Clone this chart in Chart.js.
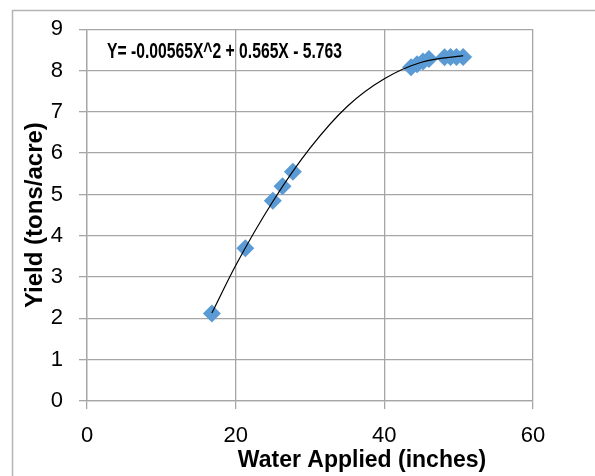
<!DOCTYPE html>
<html><head><meta charset="utf-8">
<script src="https://cdn.jsdelivr.net/npm/chart.js@4"></script>
<style>html,body{margin:0;padding:0;background:#fff}canvas{display:block}</style>
</head><body>
<canvas id="c" width="595" height="476"></canvas>
<script>
const waterApplied = [16.8, 21.3, 25.0, 26.3, 27.7, 43.6, 44.4, 45.2, 46.0, 48.1, 48.9, 49.7, 50.6];
const yieldValues  = [2.12, 3.70, 4.85, 5.20, 5.55, 8.08, 8.15, 8.22, 8.28, 8.32, 8.33, 8.33, 8.33];
// Trend line
const trendX = [16.8, 20, 25, 30, 35, 40, 45, 50.6];
const trendY = [2.13, 3.28, 4.83, 6.12, 7.13, 7.80, 8.20, 8.36];
const xTickValues = [0, 20, 40, 60];
const yTickValues = [0, 1, 2, 3, 4, 5, 6, 7, 8, 9];
const xTitle = 'Water Applied (inches)';
const yTitle = 'Yield (tons/acre)';
const equationText = 'Y= -0.00565X^2 + 0.565X - 5.763';

const FONT = '"Liberation Sans", Arial, sans-serif';
const GRID = '#a6a6a6';

const overlay = {
  id: 'overlay',
  beforeDraw(chart) {
    const ctx = chart.ctx;
    ctx.save();
    ctx.strokeStyle = '#b4b4b4';
    ctx.lineWidth = 1.5;
    ctx.beginPath();
    ctx.moveTo(12.5, 476);
    ctx.lineTo(12.5, 10.5);
    ctx.lineTo(595, 10.5);
    ctx.stroke();
    ctx.restore();
  },
  afterDraw(chart) {
    const ctx = chart.ctx;
    const xs = chart.scales.x;
    ctx.save();
    ctx.fillStyle = '#000';
    // x axis title
    ctx.font = 'bold 23px ' + FONT;
    ctx.textAlign = 'center';
    ctx.textBaseline = 'middle';
    ctx.fillText(xTitle, xs.getPixelForValue(37), 461);
    // equation label (condensed bold)
    ctx.font = 'bold 22px ' + FONT;
    ctx.textAlign = 'left';
    ctx.textBaseline = 'alphabetic';
    const w = ctx.measureText(equationText).width;
    const target = 235;
    const x0 = 107, y0 = 58;
    ctx.translate(x0, y0);
    ctx.scale(target / w, 1);
    ctx.fillText(equationText, 0, 0);
    ctx.restore();
  }
};

const points = waterApplied.map((x, i) => ({ x, y: yieldValues[i] }));
const trend = trendX.map((x, i) => ({ x, y: trendY[i] }));

new Chart(document.getElementById('c'), {
  type: 'scatter',
  data: {
    datasets: [
      {
        label: 'Trend',
        data: trend,
        showLine: true,
        borderColor: '#000',
        borderWidth: 1.2,
        pointRadius: 0,
        cubicInterpolationMode: 'monotone',
        fill: false,
        order: 0
      },
      {
        label: 'Yield',
        data: points,
        pointStyle: 'rectRot',
        pointRadius: 9,
        pointHoverRadius: 9,
        backgroundColor: '#5b9bd5',
        borderColor: '#5b9bd5',
        borderWidth: 0,
        showLine: false,
        order: 1
      }
    ]
  },
  options: {
    responsive: false,
    animation: false,
    events: [],
    layout: { padding: { top: 26, right: 62, left: 0, bottom: 0 } },
    plugins: { legend: { display: false }, tooltip: { enabled: false } },
    scales: {
      x: {
        type: 'linear', min: 0, max: 60,
        afterBuildTicks: s => { s.ticks = xTickValues.map(v => ({ value: v })); },
        afterFit: s => { s.height = 75; },
        ticks: { color: '#000', font: { family: FONT, size: 22 }, padding: 14, maxRotation: 0 },
        grid: { color: GRID, lineWidth: 1.3, tickLength: 8, drawTicks: true },
        border: { color: GRID, width: 1.3 }
      },
      y: {
        type: 'linear', min: 0, max: 9,
        afterBuildTicks: s => { s.ticks = yTickValues.map(v => ({ value: v })); },
        afterFit: s => { s.width = 87; },
        ticks: { color: '#000', font: { family: FONT, size: 22 }, padding: 16 },
        grid: { color: GRID, lineWidth: 1.3, tickLength: 8, drawTicks: true },
        border: { color: GRID, width: 1.3 },
        title: { display: true, text: yTitle, color: '#000', font: { family: FONT, size: 24, weight: 'bold' }, padding: { top: 21, bottom: 0 } }
      }
    }
  },
  plugins: [overlay]
});
</script>
</body></html>
